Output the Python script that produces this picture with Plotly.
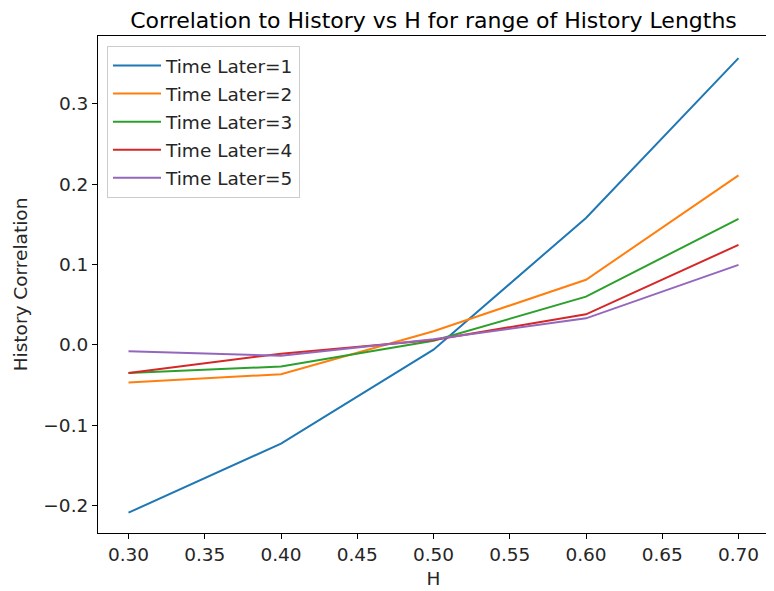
import plotly.graph_objects as go

H = [0.3, 0.4, 0.5, 0.6, 0.7]
series_names = ["Time Later=1", "Time Later=2", "Time Later=3", "Time Later=4", "Time Later=5"]
tl1 = [-0.209, -0.123, -0.006, 0.158, 0.357]
tl2 = [-0.047, -0.0365, 0.017, 0.081, 0.211]
tl3 = [-0.035, -0.027, 0.005, 0.060, 0.157]
tl4 = [-0.035, -0.011, 0.006, 0.038, 0.1245]
tl5 = [-0.008, -0.0135, 0.007, 0.033, 0.0996]
colors = ["#1f77b4", "#ff7f0e", "#2ca02c", "#d62728", "#9467bd"]
x_ticks = [0.30, 0.35, 0.40, 0.45, 0.50, 0.55, 0.60, 0.65, 0.70]
y_ticks = [-0.2, -0.1, 0.0, 0.1, 0.2, 0.3]

fig = go.Figure()
for i, (name, vals, c) in enumerate(zip(series_names, [tl1, tl2, tl3, tl4, tl5], colors)):
    fig.add_trace(go.Scatter(x=H, y=vals, mode="lines", name=name, legendgroup=f"g{i}",
                             line=dict(color=c, width=2)))

font = "DejaVu Sans"
W, Hgt = 766, 583
L, R, T, B = 90, 5, 28, 58
fig.update_layout(
    width=W, height=Hgt,
    margin=dict(l=L, r=R, t=T, b=B),
    plot_bgcolor="white", paper_bgcolor="white",
    font=dict(family=font, size=18.5, color="#262626"),
    title=dict(text="Correlation to History vs H for range of History Lengths",
               x=(L + (W - R)) / 2 / W, xanchor="center", y=1 - 12 / Hgt, yanchor="middle",
               font=dict(size=22, color="black")),
    showlegend=True,
    legend=dict(x=(107 - 98) / 671, y=1 - (46 - 36) / 497, xanchor="left", yanchor="top",
                bgcolor="rgba(255,255,255,0.8)", bordercolor="#cccccc", borderwidth=1,
                font=dict(size=18.5, color="#262626"), tracegroupgap=1, itemwidth=48),
)
fig.update_xaxes(range=[0.28, 0.72], tickvals=x_ticks, tickformat=".2f",
                 showgrid=False, zeroline=False, showline=True, linecolor="black",
                 linewidth=1, mirror=True, ticks="outside", ticklen=5, tickcolor="black",
                 title=dict(text="H", font=dict(size=18.5, color="#262626"), standoff=7))
fig.update_yaxes(range=[-0.2343, 0.3846], tickvals=y_ticks, tickformat=".1f",
                 showgrid=False, zeroline=False, showline=True, linecolor="black",
                 linewidth=1, mirror=True, ticks="outside", ticklen=5, tickcolor="black",
                 title=dict(text="History Correlation", font=dict(size=18.5, color="#262626"), standoff=10))

fig.write_html("out.html")
